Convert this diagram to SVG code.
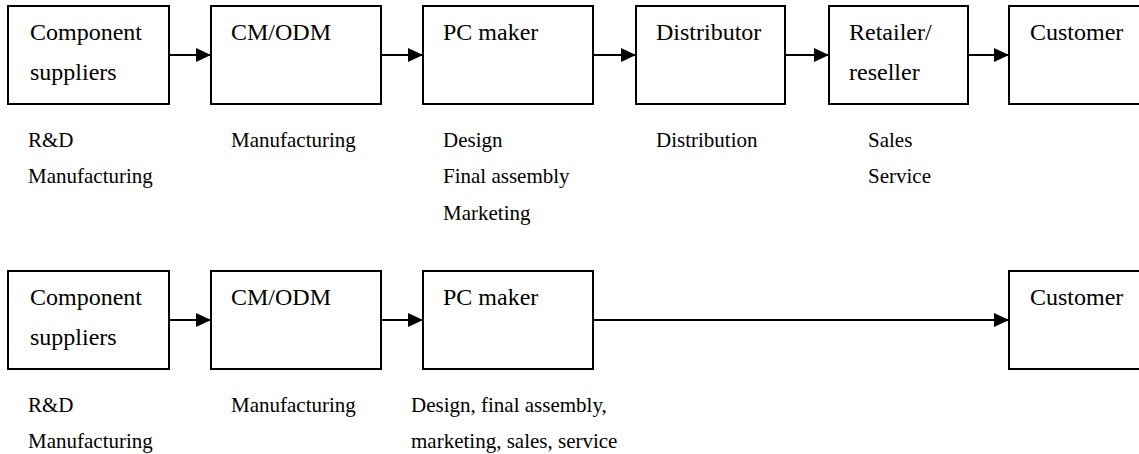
<svg xmlns="http://www.w3.org/2000/svg" width="1139" height="454" viewBox="0 0 1139 454" font-family="Liberation Serif, serif">
<style>
.box{fill:#fff;stroke:#000;stroke-width:2}
.t{font-size:24px;fill:#000}
.s{font-size:21px;fill:#000}
.c{stroke:#000;stroke-width:2;fill:none}
</style>
<defs>
<marker id="ah" markerUnits="userSpaceOnUse" markerWidth="16" markerHeight="14" refX="15" refY="7" orient="auto">
<path d="M0,0 L15,7 L0,14 Z" fill="#000"/>
</marker>
</defs>
<rect width="1139" height="454" fill="#fff"/>
<g id="connectors">
<line class="c" x1="169" y1="55" x2="211" y2="55" marker-end="url(#ah)"/>
<line class="c" x1="381" y1="55" x2="423" y2="55" marker-end="url(#ah)"/>
<line class="c" x1="593" y1="55" x2="636" y2="55" marker-end="url(#ah)"/>
<line class="c" x1="785" y1="55" x2="829" y2="55" marker-end="url(#ah)"/>
<line class="c" x1="968" y1="55" x2="1009" y2="55" marker-end="url(#ah)"/>
<line class="c" x1="169" y1="320" x2="211" y2="320" marker-end="url(#ah)"/>
<line class="c" x1="381" y1="320" x2="423" y2="320" marker-end="url(#ah)"/>
<line class="c" x1="593" y1="320" x2="1009" y2="320" marker-end="url(#ah)"/>
</g>
<g id="top-component">
<rect class="box" x="8" y="6" width="161" height="98"/>
<text class="t" x="30" y="40">Component</text>
<text class="t" x="30" y="80">suppliers</text>
<text class="s" x="28" y="147">R&amp;D</text>
<text class="s" x="28" y="183">Manufacturing</text>
</g>
<g id="top-cmodm">
<rect class="box" x="211" y="6" width="170" height="98"/>
<text class="t" x="231" y="40">CM/ODM</text>
<text class="s" x="231" y="147">Manufacturing</text>
</g>
<g id="top-pcmaker">
<rect class="box" x="423" y="6" width="170" height="98"/>
<text class="t" x="443" y="40">PC maker</text>
<text class="s" x="443" y="147">Design</text>
<text class="s" x="443" y="183">Final assembly</text>
<text class="s" x="443" y="220">Marketing</text>
</g>
<g id="top-distributor">
<rect class="box" x="636" y="6" width="149" height="98"/>
<text class="t" x="656" y="40">Distributor</text>
<text class="s" x="656" y="147">Distribution</text>
</g>
<g id="top-retailer">
<rect class="box" x="829" y="6" width="139" height="98"/>
<text class="t" x="849" y="40">Retailer/</text>
<text class="t" x="849" y="80">reseller</text>
<text class="s" x="868" y="147">Sales</text>
<text class="s" x="868" y="183">Service</text>
</g>
<g id="top-customer">
<rect class="box" x="1009" y="6" width="200" height="98"/>
<text class="t" x="1030" y="40">Customer</text>
</g>
<g id="bottom-component">
<rect class="box" x="8" y="271" width="161" height="98"/>
<text class="t" x="30" y="305">Component</text>
<text class="t" x="30" y="345">suppliers</text>
<text class="s" x="28" y="412">R&amp;D</text>
<text class="s" x="28" y="448">Manufacturing</text>
</g>
<g id="bottom-cmodm">
<rect class="box" x="211" y="271" width="170" height="98"/>
<text class="t" x="231" y="305">CM/ODM</text>
<text class="s" x="231" y="412">Manufacturing</text>
</g>
<g id="bottom-pcmaker">
<rect class="box" x="423" y="271" width="170" height="98"/>
<text class="t" x="443" y="305">PC maker</text>
<text class="s" x="411" y="412">Design, final assembly,</text>
<text class="s" x="411" y="448">marketing, sales, service</text>
</g>
<g id="bottom-customer">
<rect class="box" x="1009" y="271" width="200" height="98"/>
<text class="t" x="1030" y="305">Customer</text>
</g>
</svg>
